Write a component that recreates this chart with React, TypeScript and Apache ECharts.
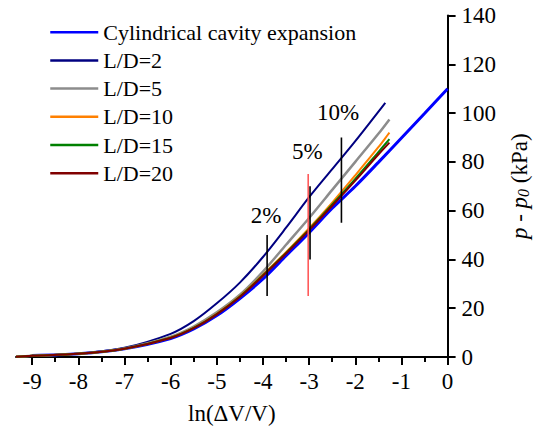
import React, { useEffect, useRef } from "react";
import * as echarts from "echarts";

const FONT = "Liberation Serif";

// Cylindrical cavity expansion solution
const xCavity = [-9, -8, -7, -6, -5.5, -5, -4.5, -4, -3.5, -3, -2.5, -2, -1.5, -1, -0.5, 0];
const pCavity = [0.6, 1.3, 3.4, 7.6, 11.5, 17, 24, 32, 41.5, 51, 61, 70, 79.8, 89.8, 99.8, 110];

// Finite-length cavity results for each L/D
const xLD2 = [-9.35, -9, -8, -7, -6, -5.5, -5, -4.5, -4, -3.5, -3, -2.5, -2, -1.35];
const pLD2 = [0.1, 0.5, 1.4, 3.8, 9.5, 14.7, 22, 30.5, 41, 53, 65.5, 77, 88.5, 104.2];

const xLD = [-9.35, -9, -8, -7, -6, -5.5, -5, -4.5, -4, -3.5, -3, -2.5, -2, -1.5, -1.26];
const pLD5 = [0.1, 0.5, 1.3, 3.5, 8.3, 12.5, 18.3, 25.5, 35, 46, 57, 68.5, 80, 91.5, 97.4];
const pLD10 = [0.1, 0.5, 1.3, 3.4, 8, 12, 17.8, 25, 33.8, 43, 52.8, 63.3, 74.5, 86, 92];
const pLD15 = [0.1, 0.5, 1.3, 3.4, 7.9, 11.9, 17.6, 24.8, 33.5, 42.7, 52.3, 62.5, 73, 84, 89.3];
const pLD20 = [0.1, 0.5, 1.3, 3.4, 7.8, 11.8, 17.5, 24.6, 33.3, 42.4, 52, 62, 72.3, 83, 87.9];

// Volumetric strain markers: [x, yFrom, yTo]
const marker2 = [-3.91, 25, 50];
const marker5Red = [-3.02, 25, 75];
const marker5 = [-2.98, 40, 70];
const marker10 = [-2.3, 55, 90];

const markerLabels = ["2%", "5%", "10%"];
const markerLabelX = [-3.92, -3.03, -2.36];
const markerLabelY = [58, 84, 100];

const xTicks = [-9, -8, -7, -6, -5, -4, -3, -2, -1, 0];
const xMinorTicks = [-8.5, -7.5, -6.5, -5.5, -4.5, -3.5, -2.5, -1.5, -0.5];

const legendNames = [
  "Cylindrical cavity expansion",
  "L/D=2",
  "L/D=5",
  "L/D=10",
  "L/D=15",
  "L/D=20",
];

const zip = (xs: number[], ys: number[]) => xs.map((x, i) => [x, ys[i]]);

const txt = (size: number) => ({
  fontFamily: FONT,
  fontSize: size,
  fontWeight: "normal",
  color: "#000",
});

// Serif token style used through rich text so every label keeps the serif face
const serifRich = (size: number, extra: any = {}) => ({ t: { ...txt(size), ...extra } });

const curve = (name: string, data: number[][], color: string, width: number) => ({
  name,
  type: "line",
  data,
  smooth: 0.3,
  symbol: "none",
  showSymbol: false,
  lineStyle: { color, width },
  itemStyle: { color },
  z: 3,
});

const segment = (m: number[], color: string) => ({
  type: "line",
  data: [
    [m[0], m[1]],
    [m[0], m[2]],
  ],
  symbol: "none",
  lineStyle: { color, width: 1.6 },
  silent: true,
  z: 4,
});

export default function App() {
  const ref = useRef<HTMLDivElement>(null);

  useEffect(() => {
    document.body.style.margin = "0";
    if (!ref.current) return;
    const chart = echarts.init(ref.current, null, { renderer: "svg" });
    chart.setOption({
      animation: false,
      backgroundColor: "#ffffff",
      textStyle: { fontFamily: FONT },
      grid: { left: 16, right: 85.7, top: 15.5, bottom: 70.7 },
      legend: {
        data: legendNames,
        orient: "vertical",
        left: 49,
        top: 21.2,
        padding: 0,
        itemWidth: 48,
        itemHeight: 20,
        itemGap: 6.2,
        itemStyle: { opacity: 0 },
        lineStyle: { width: 2.5 },
        formatter: (name: string) => `{t|${name}}`,
        textStyle: { ...txt(22), lineHeight: 20, rich: serifRich(22, { lineHeight: 20 }) },
      },
      xAxis: [
        {
          type: "value",
          min: -9.35,
          max: 0,
          position: "bottom",
          name: "{t|ln(ΔV/V)}",
          nameLocation: "middle",
          nameGap: 45,
          nameTextStyle: { ...txt(23), rich: serifRich(23) },
          axisLine: { onZero: false, lineStyle: { color: "#000", width: 2 } },
          axisTick: { customValues: xTicks, length: 8, lineStyle: { color: "#000", width: 2 } },
          axisLabel: {
            customValues: xTicks,
            margin: 13,
            ...txt(23),
            formatter: (v: number) => `{t|${v}}`,
            rich: serifRich(23),
          },
          splitLine: { show: false },
        },
        {
          type: "value",
          min: -9.35,
          max: 0,
          position: "bottom",
          axisLine: { show: false },
          axisTick: { customValues: xMinorTicks, length: 5, lineStyle: { color: "#000", width: 2 } },
          axisLabel: { show: false },
          splitLine: { show: false },
        },
      ],
      yAxis: {
        type: "value",
        position: "right",
        min: 0,
        max: 140,
        interval: 20,
        name: "{i|p}{t| - }{i|p}{s|0}{t| (kPa)}",
        nameLocation: "middle",
        nameRotate: 90,
        nameGap: 56,
        nameTextStyle: {
          ...txt(23),
          rich: {
            t: { ...txt(23), lineHeight: 24 },
            i: { ...txt(23), fontStyle: "italic", lineHeight: 24 },
            s: {
              ...txt(16),
              fontStyle: "italic",
              lineHeight: 16,
              verticalAlign: "bottom",
              padding: [8, 0, 0, 0],
            },
          },
        },
        axisLine: { show: true, onZero: false, lineStyle: { color: "#000", width: 2 } },
        axisTick: { length: 8, lineStyle: { color: "#000", width: 2 } },
        axisLabel: {
          margin: 14,
          ...txt(23),
          formatter: (v: number) => `{t|${v}}`,
          rich: serifRich(23),
        },
        splitLine: { show: false },
      },
      series: [
        curve(legendNames[0], zip(xCavity, pCavity), "#0000ff", 3),
        curve(legendNames[1], zip(xLD2, pLD2), "#000080", 2),
        curve(legendNames[2], zip(xLD, pLD5), "#8c8c8c", 2.5),
        curve(legendNames[3], zip(xLD, pLD10), "#ff8000", 2),
        curve(legendNames[4], zip(xLD, pLD15), "#008000", 2),
        curve(legendNames[5], zip(xLD, pLD20), "#800000", 2),
        segment(marker2, "#000"),
        segment(marker5Red, "#ff5a5a"),
        segment(marker5, "#000"),
        segment(marker10, "#000"),
        {
          type: "scatter",
          symbolSize: 1,
          silent: true,
          itemStyle: { color: "#000", opacity: 0 },
          data: markerLabels.map((t, i) => [markerLabelX[i], markerLabelY[i], t]),
          label: {
            show: true,
            position: [0, 0],
            align: "center",
            verticalAlign: "middle",
            formatter: (p: any) => `{t|${p.data[2]}}`,
            ...txt(23),
            rich: serifRich(23),
            opacity: 1,
            textBorderWidth: 0,
          },
          z: 5,
        },
      ],
    });
    return () => chart.dispose();
  }, []);

  return <div ref={ref} style={{ width: 539, height: 430 }} />;
}
